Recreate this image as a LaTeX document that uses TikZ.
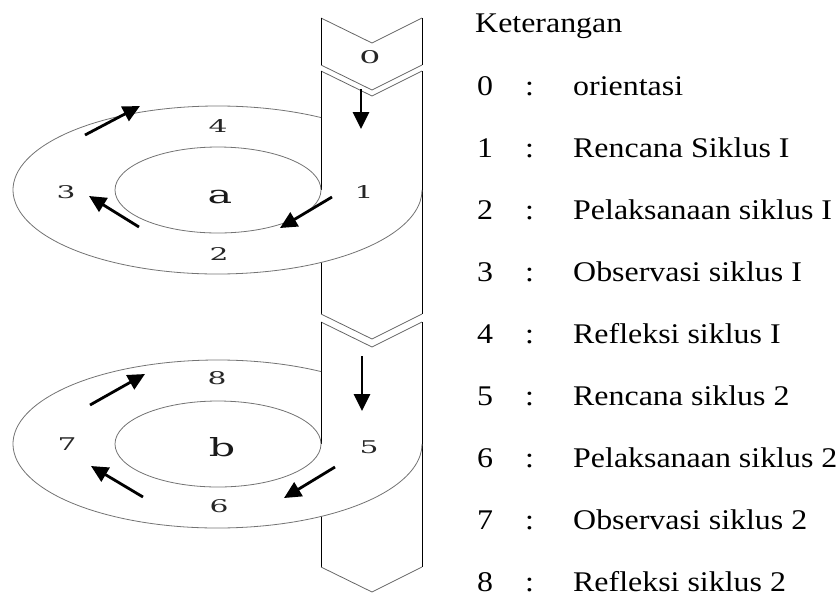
\documentclass[tikz,border=0pt]{standalone}
\usepackage{fontspec}
\setmainfont{Liberation Serif}
\newfontfamily\ringfont{DejaVu Serif}
\usetikzlibrary{arrows.meta}
\newcommand\wideA[2]{\scalebox{#1}[1]{#2}}
\begin{document}
\begin{tikzpicture}[x=1pt,y=-1pt,
 ringline/.style={draw=black!55, line width=0.8pt},
 pillar/.style={draw=black, line width=0.9pt},
 vline/.style={draw=black!60, line width=0.8pt},
 flow/.style={draw=black, line width=2.8pt, -{Triangle[length=17pt,width=16pt]}},
 num/.style={font=\ringfont\fontsize{17.5}{17.5}\selectfont, text=black!85, inner sep=0pt},
 big/.style={font=\ringfont\fontsize{25}{25}\selectfont, text=black!90, inner sep=0pt},
 leg/.style={anchor=base west, font=\fontsize{28.5}{32}\selectfont, inner sep=0pt}]
\useasboundingbox (0,0) rectangle (840,606);

% ---- pillar: block 0
\draw[vline] (321,18) -- (372,43) -- (422,18);
\draw[vline] (321,65) -- (372,90) -- (422,65);
\draw[pillar] (321,18) -- (321,65);
\draw[pillar] (422,18) -- (422,65);
% ---- pillar: middle block
\draw[vline] (321,71) -- (372,96) -- (422,71);
\draw[pillar] (321,71) -- (321,190);
\draw[pillar] (321,262.4) -- (321,314);
\draw[pillar] (422,71) -- (422,314);
\draw[vline] (321,314) -- (372,339) -- (422,314);
% ---- pillar: lower block
\draw[vline] (321,322) -- (372,347) -- (422,322);
\draw[pillar] (321,322) -- (321,444);
\draw[pillar] (321,516.4) -- (321,567);
\draw[pillar] (422,322) -- (422,567);
\draw[vline] (321,567) -- (372,592) -- (422,567);

% ---- rings
\draw[ringline] (218,190) ellipse [x radius=103, y radius=43];
\draw[ringline] (321,117.55) arc[start angle=-59.6, end angle=-360, x radius=204.5, y radius=84];
\draw[ringline] (218,444) ellipse [x radius=103, y radius=43];
\draw[ringline] (321,371.55) arc[start angle=-59.6, end angle=-360, x radius=204.5, y radius=84];

% ---- ring labels
\node[num] (n0) at (370,57.5) {\wideA{1.9}{0}};
\node[num] (n1) at (364,192) {\wideA{1.7}{1}};
\node[num] (n2) at (219,253.5) {\wideA{1.7}{2}};
\node[num] (n3) at (66,192) {\wideA{1.7}{3}};
\node[num] (n4) at (218,126) {\wideA{1.7}{4}};
\node[big] (la) at (220,197) {\wideA{1.65}{a}};
\node[num] (n5) at (369,447) {\wideA{1.7}{5}};
\node[num] (n6) at (219,506) {\wideA{1.7}{6}};
\node[num] (n7) at (67,444) {\wideA{1.7}{7}};
\node[num] (n8) at (217,378) {\wideA{1.7}{8}};
\node[big] (lb) at (222,447) {\wideA{1.65}{b}};

% ---- arrows
\coordinate (a1s) at (361,89);  \coordinate (a1e) at (361,129);
\coordinate (a2s) at (332,197); \coordinate (a2e) at (280,228);
\coordinate (a3s) at (139,227); \coordinate (a3e) at (89,196);
\coordinate (a4s) at (85,135);  \coordinate (a4e) at (140,106);
\coordinate (b1s) at (362,356); \coordinate (b1e) at (362,411);
\coordinate (b2s) at (335,467); \coordinate (b2e) at (284,498);
\coordinate (b3s) at (143,497); \coordinate (b3e) at (91,466);
\coordinate (b4s) at (90,405);  \coordinate (b4e) at (145,374);
\foreach \p in {a1,a2,a3,a4,b1,b2,b3,b4} \draw[flow] (\p s) -- (\p e);

% ---- legend
\node[leg] (kt) at (475,32) {\wideA{1.12}{Keterangan}};
\foreach \k/\t in {0/orientasi, 1/Rencana Siklus I, 2/Pelaksanaan siklus I,
  3/Observasi siklus I, 4/Refleksi siklus I, 5/Rencana siklus 2,
  6/Pelaksanaan siklus 2, 7/Observasi siklus 2, 8/Refleksi siklus 2}{
  \node[leg] (d\k) at (477,{95+62*\k}) {\wideA{1.12}{\k}};
  \node[leg] (c\k) at (525,{95+62*\k}) {\wideA{1.12}{:}};
  \node[leg] (t\k) at (573,{95+62*\k}) {\wideA{1.12}{\t}};
}
\end{tikzpicture}
\end{document}
